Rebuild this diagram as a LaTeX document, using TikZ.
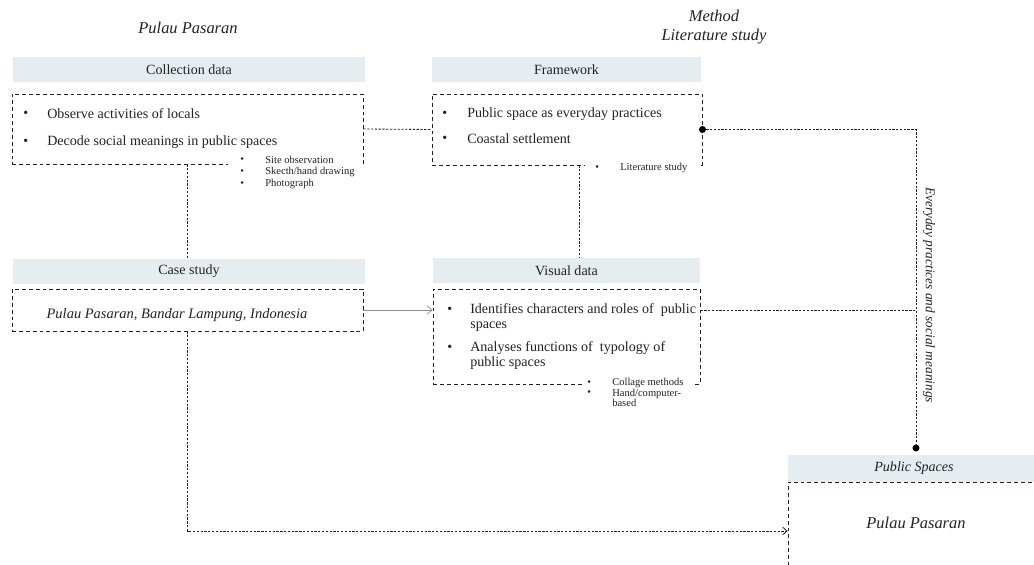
\documentclass[tikz,border=0pt]{standalone}
\usepackage{fontspec}
\setmainfont{Liberation Serif}
\usetikzlibrary{positioning, arrows.meta, calc}

\definecolor{headfill}{HTML}{E6EDF1}
\definecolor{ink}{HTML}{222222}
\definecolor{arrowgrey}{HTML}{8A8A8A}

\tikzset{
  header/.style={fill=headfill, inner sep=0pt, text=ink, font=\fontsize{10}{12}\selectfont},
  dashbox/.style={draw=ink, line width=0.6pt, dash pattern=on 2.8pt off 2.1pt, inner sep=0pt},
  subbox/.style={fill=white, inner sep=0pt},
  conn/.style={draw=ink, line width=0.6pt, dash pattern=on 1.6pt off 1.1pt},
  item/.style={inner sep=0pt, anchor=west, align=left, text=ink, font=\fontsize{10}{10.8}\selectfont},
  subitem/.style={inner sep=0pt, anchor=west, align=left, text=ink, font=\fontsize{7.5}{7.2}\selectfont},
  title/.style={inner sep=0pt, align=center, text=ink, font=\fontsize{11.7}{14}\selectfont\itshape},
  blob/.style={circle, fill=black, inner sep=0pt, minimum size=5pt}
}

\begin{document}
\begin{tikzpicture}[x=0.025cm, y=-0.025cm, >=Stealth]
  \clip (0,0) rectangle (1034,565);
  % Titles
  \node[title] (ttl) at (188,28) {Pulau Pasaran};
  \node[title] (mth) at (714,27) {Method\\Literature study};

  % Headers
  \node[header, minimum width=8.8cm, minimum height=0.625cm] (colhead) at (189,69.5) {Collection data};
  \node[header, minimum width=6.725cm, minimum height=0.625cm] (frmhead) at (566.5,69.5) {Framework};
  \node[header, minimum width=8.8cm, minimum height=0.625cm] (casehead) at (189,271.5) {Case study};
  \node[header, minimum width=6.675cm, minimum height=0.625cm] (vishead) at (566.5,270.5) {Visual data};
  \node[header, minimum width=6.3cm, minimum height=0.675cm, font=\fontsize{10}{12}\selectfont\itshape] (pubhead) at (914,468.5) {Public Spaces};

  % Dashed boxes
  \node[dashbox, minimum width=8.775cm, minimum height=1.75cm] (colbox) at (187.5,129) {};
  \node[dashbox, minimum width=6.75cm, minimum height=1.775cm] (frmbox) at (567,129.5) {};
  \node[dashbox, minimum width=8.775cm, minimum height=1.05cm] (casebox) at (187.5,310) {};
  \node[dashbox, minimum width=6.675cm, minimum height=2.375cm] (visbox) at (566.5,336.5) {};
  \node[dashbox, minimum width=6.3cm, minimum height=2.45cm] (pubbox) at (914,531) {};

  % White patches for the small lists
  \node[subbox, minimum width=3.35cm, minimum height=1.075cm] (colsub) at (295,172.5) {};
  \node[subbox, minimum width=2.875cm, minimum height=0.55cm] (frmsub) at (642.5,167) {};
  \node[subbox, minimum width=2.75cm, minimum height=0.975cm] (vissub) at (638,392.5) {};

  % Bullet items
  \foreach \n/\bx/\tx/\y/\txt in {
    obs/23/47/114/Observe activities of locals,
    dec/23/47/142/Decode social meanings in public spaces,
    pub/442/467/114/Public space as everyday practices,
    coa/442/467/139/Coastal settlement}{
    \node[item] (d\n) at (\bx,\y) {\textbullet};
    \node[item] (t\n) at (\tx,\y) {\txt};
  }
  \foreach \n/\by/\ty/\txt in {
    ide/310/317.5/{Identifies characters and roles of\ \ public\\spaces},
    ana/348/355.5/{Analyses functions of\ \ typology of\\public spaces}}{
    \node[item] (d\n) at (447,\by) {\textbullet};
    \node[item] (t\n) at (470,\ty) {\txt};
  }
  % Small lists
  \foreach \n/\bx/\by/\ty/\txt in {
    sit/240/160/160/Site observation,
    ske/240/172/172/{Skecth/hand drawing},
    pho/240/184/184/Photograph,
    lit/595/168/168/Literature study,
    cla/587/383/383/Collage methods,
    han/587/393/398/{Hand/computer-\\based}}{
    \node[subitem] (sd\n) at (\bx,\by) {\textbullet};
    \node[subitem] (st\n) at ({\bx+25},\ty) {\txt};
  }

  % Box texts
  \node[inner sep=0pt, text=ink, font=\fontsize{10.3}{12}\selectfont\itshape] (casetext) at (177,315) {Pulau Pasaran, Bandar Lampung, Indonesia};
  \node[title] (pubtext) at (916,523) {Pulau Pasaran};
  \node[inner sep=0pt, text=ink, rotate=-90, font=\fontsize{9.5}{11}\selectfont\itshape] (lbl) at (929,295) {Everyday practices and social meanings};

  % Dots
  \node[blob] (dotA) at (frmbox.east) {};
  \node[blob] (dotB) at (916,448) {};

  % Connectors
  \draw[conn] (colbox.east) -- (frmbox.west);
  \draw[conn] (colbox.south) -- (colbox.south |- casehead.north);
  \draw[conn] ([xshift=0.3cm]frmbox.south) -- ([xshift=0.3cm]frmbox.south |- vishead.north);
  \draw[conn] (dotA) -| (dotB);
  \draw[conn] (visbox.east |- dide) -- (dotB |- dide);
  \draw[arrowgrey, line width=0.5pt, -{Straight Barb[length=3.5pt, width=6pt]}] (casebox.east) -- (visbox.west |- casebox.east);
  \draw[conn, -{Straight Barb[length=3pt, width=5.5pt]}] (casebox.south) |- (pubbox.west);
\end{tikzpicture}
\end{document}
